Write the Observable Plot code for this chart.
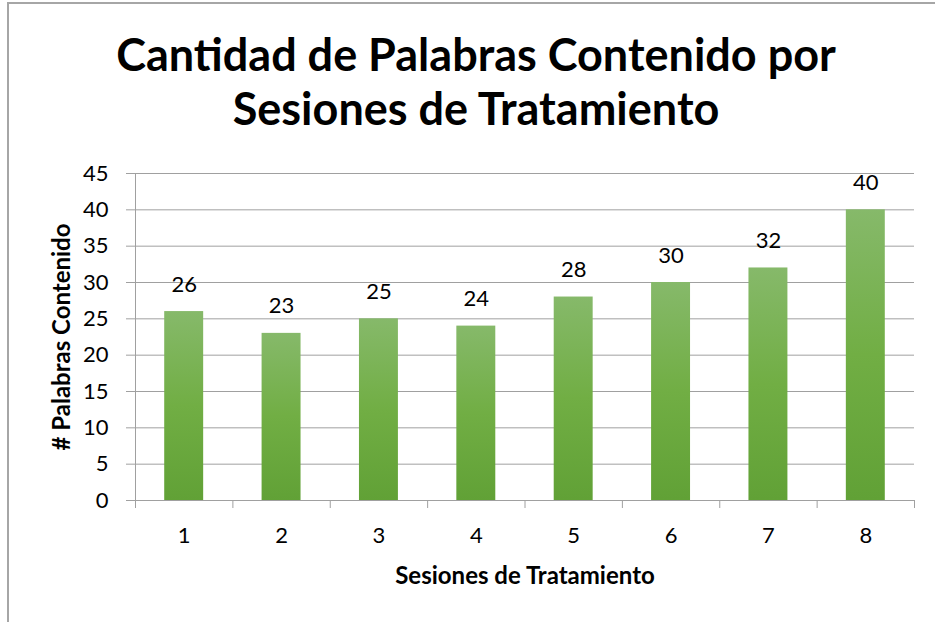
<!DOCTYPE html>
<html><head><meta charset="utf-8">
<script src="https://cdn.jsdelivr.net/npm/d3@7"></script>
<script src="https://cdn.jsdelivr.net/npm/@observablehq/plot@0.6"></script>
<style>
body{margin:0;background:#fff;}
#wrap{position:relative;width:935px;height:622px;overflow:hidden;font-family:Lato,sans-serif;background:#fff;}
#frameTop{position:absolute;left:7px;top:2px;width:928px;height:0;border-top:2px solid #a6a6a6;}
#frameLeft{position:absolute;left:7px;top:2px;width:0;height:620px;border-left:2px solid #a6a6a6;}
#title{position:absolute;left:0;top:27px;width:952px;text-align:center;font-weight:700;font-size:45px;line-height:54px;color:#000;}
#chart{position:absolute;left:0;top:0;}
</style>
</head><body>
<div id="wrap">
  <div id="frameTop"></div>
  <div id="frameLeft"></div>
  <div id="chart"></div>
  <div id="title">Cantidad de Palabras Contenido por<br>Sesiones de Tratamiento</div>
</div>
<script>
const sesiones = [1, 2, 3, 4, 5, 6, 7, 8];
const palabras = [26, 23, 25, 24, 28, 30, 32, 40];
const yTicks = [0, 5, 10, 15, 20, 25, 30, 35, 40, 45];
const yLabel = "# Palabras Contenido";
const xLabel = "Sesiones de Tratamiento";

const data = sesiones.map((s, i) => ({s, v: palabras[i]}));
const bounds = [sesiones[0] - 0.5, ...sesiones.map(s => s + 0.5)];
const half = 0.2;

const svg = Plot.plot({
  width: 935, height: 622,
  marginTop: 173, marginBottom: 122, marginLeft: 135, marginRight: 21,
  x: {domain: [bounds[0], bounds[bounds.length - 1]]},
  y: {domain: [0, 45]},
  style: {fontFamily: "Lato, sans-serif", fontSize: "22px", color: "#000", background: "transparent"},
  marks: [
    Plot.gridY(yTicks, {stroke: "#a0a0a0", strokeOpacity: 1}),
    Plot.axisY(yTicks, {tickSize: 9, tickPadding: 18, stroke: "#a0a0a0", fill: "#000", label: null}),
    Plot.rectY(data, {x1: d => d.s - half, x2: d => d.s + half, y: "v", fill: "url(#barGrad)"}),
    Plot.ruleY([0], {stroke: "#a0a0a0"}),
    Plot.ruleX([bounds[0]], {stroke: "#a0a0a0"}),
    Plot.axisX(bounds, {tickSize: 8, tickFormat: () => "", stroke: "#a0a0a0", label: null}),
    Plot.axisX(sesiones, {tickSize: 0, tickPadding: 27, fill: "#000", label: null}),
    Plot.text(data, {x: "s", y: "v", text: d => String(d.v), dy: -27, fill: "#000"}),
    Plot.text([yLabel], {frameAnchor: "left", textAnchor: "middle", lineAnchor: "middle", rotate: -90, dx: -73, fontWeight: "bold", fontSize: 24, fill: "#000"}),
    Plot.text([xLabel], {frameAnchor: "bottom", textAnchor: "middle", lineAnchor: "middle", dy: 76, fontWeight: "bold", fontSize: 24, fill: "#000"})
  ]
});

const defs = d3.select(svg).insert("defs", ":first-child");
const grad = defs.append("linearGradient").attr("id", "barGrad")
  .attr("x1", 0).attr("y1", 0).attr("x2", 0).attr("y2", 1);
grad.append("stop").attr("offset", "0%").attr("stop-color", "#86b96a");
grad.append("stop").attr("offset", "50%").attr("stop-color", "#71ae44");
grad.append("stop").attr("offset", "100%").attr("stop-color", "#61a136");

document.getElementById("chart").appendChild(svg);
</script>
</body></html>
